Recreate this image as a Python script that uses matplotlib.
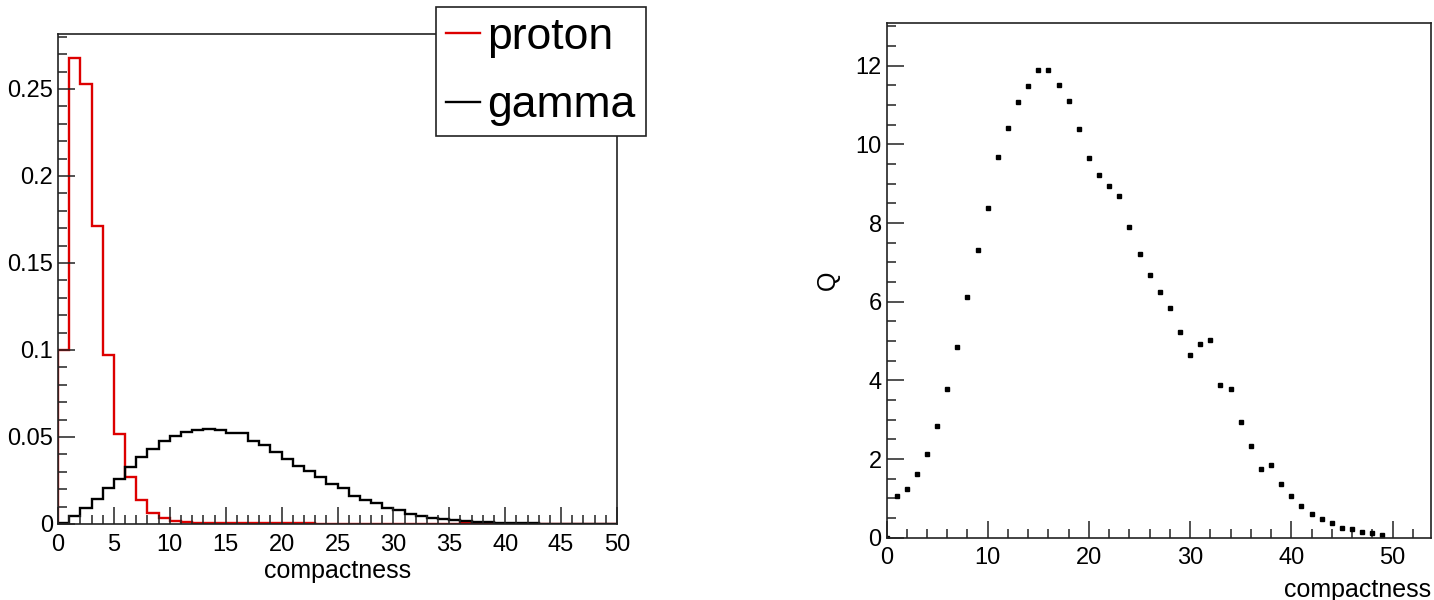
"""
plot.py - compactness distributions for proton / gamma and the Q factor.
"""

import numpy as np
import matplotlib
matplotlib.use("Agg")
import matplotlib.pyplot as plt
from matplotlib.ticker import MultipleLocator, FuncFormatter

plt.rcParams["font.family"] = ["Liberation Sans", "DejaVu Sans"]

# --- data: normalised histograms, 50 bins of width 1 from 0 to 50 ---
bin_edges = np.arange(0, 51)

proton = [0.100, 0.268, 0.253, 0.171, 0.097, 0.052, 0.027, 0.014, 0.0065, 0.0035,
          0.0020, 0.0012, 0.0008, 0.0006, 0.0005, 0.0004, 0.0004, 0.0004, 0.0003, 0.0003,
          0.0003, 0.0003, 0.0003, 0.0002, 0.0002, 0.0002, 0.0002, 0.0002, 0.0002, 0.0002,
          0.0002, 0.0002, 0.0002, 0.0002, 0.0002, 0.0002, 0.0003, 0.0006, 0.0006, 0.0001,
          0.0001, 0.0001, 0.0001, 0.0001, 0.0001, 0.0001, 0.0001, 0.0001, 0.0001, 0.0001]

gamma = [0.0008, 0.0046, 0.0090, 0.0142, 0.0205, 0.0259, 0.0330, 0.0383, 0.0431, 0.0477,
         0.0508, 0.0530, 0.0540, 0.0546, 0.0540, 0.0525, 0.0521, 0.0477, 0.0454, 0.0416,
         0.0374, 0.0333, 0.0306, 0.0268, 0.0228, 0.0205, 0.0161, 0.0138, 0.0123, 0.0094,
         0.0080, 0.0057, 0.0048, 0.0036, 0.0027, 0.0021, 0.0017, 0.0011, 0.0009, 0.0006,
         0.0004, 0.0004, 0.0004, 0.0002, 0.0002, 0.0001, 0.0001, 0.0001, 0.0001, 0.0001]

# --- data: Q vs compactness cut ---
q_x = np.arange(0, 50)
q_val = [0.00, 1.06, 1.23, 1.61, 2.13, 2.85, 3.77, 4.84, 6.13, 7.31,
         8.39, 9.69, 10.42, 11.07, 11.48, 11.89, 11.89, 11.51, 11.10, 10.38,
         9.66, 9.21, 8.94, 8.70, 7.91, 7.21, 6.67, 6.25, 5.85, 5.22,
         4.65, 4.92, 5.02, 3.88, 3.78, 2.95, 2.34, 1.75, 1.86, 1.37,
         1.06, 0.81, 0.61, 0.48, 0.37, 0.24, 0.21, 0.14, 0.11, 0.06]

W, H = 1434, 600
fig = plt.figure(figsize=(W / 100, H / 100), dpi=100)

frame_col = "#222222"
tick_fs = 17


def root_style(ax):
    for sp in ax.spines.values():
        sp.set_color(frame_col)
        sp.set_linewidth(1.2)
    ax.tick_params(which="both", direction="in", top=False, right=False,
                   colors=frame_col, labelcolor="black", labelsize=tick_fs, width=1.1)
    ax.tick_params(which="major", length=12)
    ax.tick_params(which="minor", length=6.5)
    ax.tick_params(axis="x", which="both", pad=7)
    ax.tick_params(axis="y", which="both", pad=3.5)
    ax.yaxis.set_major_formatter(FuncFormatter(lambda v, p: "%g" % round(v, 4)))


# ─── left: compactness histograms ───
ax1 = fig.add_axes([58 / W, 1 - 524 / H, (617 - 58) / W, (524 - 34) / H])
ax1.stairs(proton, bin_edges, color="#dd0000", linewidth=1.7, label="proton")
ax1.stairs(gamma, bin_edges, color="black", linewidth=1.7, label="gamma")
ax1.set_xlim(0, 50)
ax1.set_ylim(0, 0.2816)
ax1.xaxis.set_major_locator(MultipleLocator(5))
ax1.xaxis.set_minor_locator(MultipleLocator(1))
ax1.yaxis.set_major_locator(MultipleLocator(0.05))
ax1.yaxis.set_minor_locator(MultipleLocator(0.01))
root_style(ax1)
ax1.set_xlabel("compactness", fontsize=18)
ax1.xaxis.set_label_coords(0.5, -0.072)

leg = ax1.legend(loc="upper left", bbox_to_anchor=(436.5 / W, 1 - 7 / H),
                 bbox_transform=fig.transFigure, borderaxespad=0, fancybox=False,
                 framealpha=1, edgecolor=frame_col, fontsize=32, handlelength=0.75,
                 handletextpad=0.18, borderpad=0.22, labelspacing=0.62)
leg.get_frame().set_linewidth(1.2)

# ─── right: Q factor ───
ax2 = fig.add_axes([886.5 / W, 1 - 537.7 / H, (1431 - 886.5) / W, (537.7 - 23.3) / H])
ax2.plot(q_x, q_val, linestyle="none", marker="s", markersize=3, color="black")
ax2.set_xlim(0, 53.8)
ax2.set_ylim(0, 13.08)
ax2.xaxis.set_major_locator(MultipleLocator(10))
ax2.xaxis.set_minor_locator(MultipleLocator(2))
ax2.yaxis.set_major_locator(MultipleLocator(2))
ax2.yaxis.set_minor_locator(MultipleLocator(0.5))
root_style(ax2)
ax2.set_xlabel("compactness", fontsize=18, ha="right")
ax2.xaxis.set_label_coords(1.0, -0.078)
ax2.set_ylabel("Q", fontsize=18)
ax2.yaxis.set_label_coords(-0.085, 0.5)

fig.savefig("out.png", dpi=100)
